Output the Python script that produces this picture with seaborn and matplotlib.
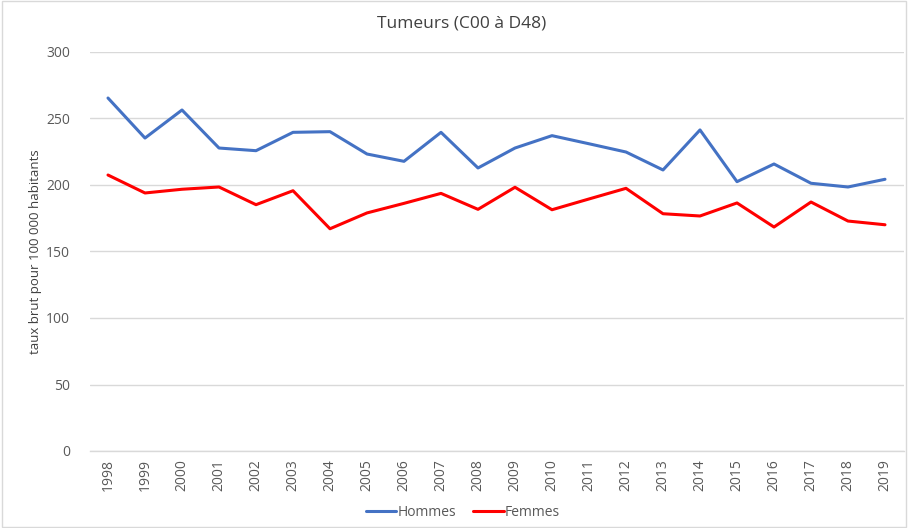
import matplotlib
matplotlib.use("Agg")
import matplotlib.pyplot as plt
import seaborn as sns
import pandas as pd
from matplotlib.patches import Rectangle
from matplotlib.lines import Line2D

years = [str(y) for y in range(1998, 2020)]
hommes = [265.4, 235.3, 256.4, 227.8, 225.8, 239.6, 240.1, 223.3, 217.8, 239.6, 212.8,
          227.8, 237.1, 231.0, 224.8, 211.3, 241.4, 202.5, 215.8, 201.3, 198.5, 204.3]
femmes = [207.5, 194.0, 196.8, 198.5, 185.2, 195.7, 167.1, 179.0, 186.2, 193.7, 181.7,
          198.3, 181.4, 189.5, 197.5, 178.4, 176.7, 186.5, 168.4, 187.2, 172.9, 170.1]
series_names = ["Hommes", "Femmes"]
colors = {"Hommes": "#4472C4", "Femmes": "#FF0000"}
title = "Tumeurs (C00 à D48)"
ylabel = "taux brut pour 100 000 habitants"
yticks = [0, 50, 100, 150, 200, 250, 300]

df = pd.DataFrame({
    "year": years * 2,
    "x": list(range(len(years))) * 2,
    "value": hommes + femmes,
    "serie": [series_names[0]] * len(years) + [series_names[1]] * len(years),
})

sns.set_theme(style="white")
plt.rcParams["font.family"] = ["Open Sans", "DejaVu Sans"]

fig = plt.figure(figsize=(9.08, 5.28), dpi=100)
ax = fig.add_axes([89.5 / 908, 1 - 451 / 528, (903.5 - 89.5) / 908, (451 - 52) / 528])

sns.lineplot(data=df, x="x", y="value", hue="serie", palette=colors, ax=ax,
             linewidth=2.2, legend=False, hue_order=series_names)

ax.set_xlim(-0.5, len(years) - 0.5)
ax.set_ylim(0, 300)
ax.set_yticks(yticks)
ax.set_yticklabels([str(t) for t in yticks], color="#595959", fontsize=10)
ax.set_xticks(range(len(years)))
ax.set_xticklabels(years, rotation=90, color="#595959", fontsize=10)
ax.tick_params(axis="both", length=0, pad=6)
ax.tick_params(axis="y", pad=14)
ax.grid(axis="y", color="#D9D9D9", linewidth=1)
ax.set_axisbelow(True)
for s in ["top", "right", "left"]:
    ax.spines[s].set_visible(False)
ax.spines["bottom"].set_color("#D9D9D9")
ax.spines["bottom"].set_linewidth(1)
ax.set_xlabel("")
ax.set_ylabel(ylabel, color="#404040", fontsize=9.5)
ax.yaxis.set_label_coords(-0.058, 0.5)

fig.text(462 / 908, 1 - 24 / 528, title, ha="center", va="center", fontsize=12.5, color="#404040")

handles = [Line2D([0], [0], color=colors[n], linewidth=2.2) for n in series_names]
fig.legend(handles, series_names, loc="center", bbox_to_anchor=(463 / 908, 1 - 512 / 528),
           ncol=2, frameon=False, fontsize=10, handlelength=2.2, handletextpad=0.1,
           columnspacing=1.2, labelcolor="#595959")

fig.patches.append(Rectangle((0.002, 0.002), 0.996, 0.996, transform=fig.transFigure,
                             fill=False, edgecolor="#D9D9D9", linewidth=1))

fig.savefig("out.png", dpi=100)
